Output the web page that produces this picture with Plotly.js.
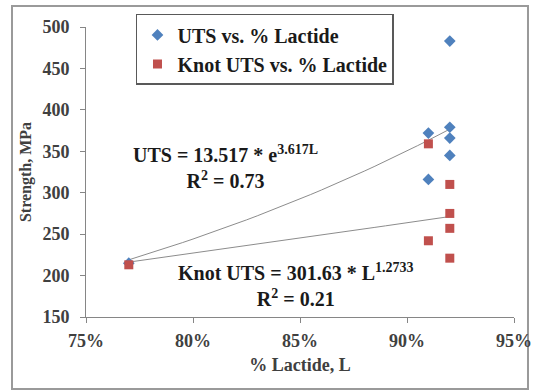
<!DOCTYPE html>
<html>
<head>
<meta charset="utf-8">
<script src="https://cdn.plot.ly/plotly-3.0.1.min.js"></script>
<style>html,body{margin:0;padding:0;background:#fff;}#chart{width:539px;height:391px;}</style>
</head>
<body>
<div id="chart"></div>
<script>
// Data
const utsLactide = [0.77, 0.91, 0.91, 0.92, 0.92, 0.92, 0.92];
const utsValues  = [215, 372, 316, 483, 379, 366, 345];
const knotLactide = [0.77, 0.91, 0.91, 0.92, 0.92, 0.92, 0.92];
const knotValues  = [213, 359, 242, 310, 275, 257, 221];

// Trendline equations shown on the chart
const utsFit  = {a: 13.517, b: 3.617};    // UTS = a * e^(bL)
const knotFit = {a: 301.63, b: 1.2733};   // Knot UTS = a * L^b
const fitRange = [0.77, 0.92];

const xTicks = [0.75, 0.80, 0.85, 0.90, 0.95];
const yTicks = [150, 200, 250, 300, 350, 400, 450, 500];

const fitX = [];
for (let i = 0; i <= 30; i++) fitX.push(fitRange[0] + (fitRange[1] - fitRange[0]) * i / 30);
const utsFitY = fitX.map(L => utsFit.a * Math.exp(utsFit.b * L));
const knotFitY = fitX.map(L => knotFit.a * Math.pow(L, knotFit.b));

const serif = 'Liberation Serif';
const txt = '#1a1a1a';

const traces = [
  {x: fitX, y: utsFitY, mode: 'lines', line: {color: '#8c8c8c', width: 1}, showlegend: false, hoverinfo: 'skip'},
  {x: fitX, y: knotFitY, mode: 'lines', line: {color: '#8c8c8c', width: 1}, showlegend: false, hoverinfo: 'skip'},
  {x: utsLactide, y: utsValues, mode: 'markers', name: 'UTS vs. % Lactide',
   marker: {symbol: 'diamond', size: 9, color: '#4F81BD'}},
  {x: knotLactide, y: knotValues, mode: 'markers', name: 'Knot UTS vs. % Lactide',
   marker: {symbol: 'square', size: 9, color: '#C0504D'}}
];

const layout = {
  width: 539, height: 391,
  margin: {l: 86, r: 25, t: 27, b: 74},
  paper_bgcolor: '#ffffff', plot_bgcolor: '#ffffff',
  font: {family: serif, color: txt, weight: 'bold'},
  showlegend: true,
  legend: {
    x: 0.1168, y: 1.045, xanchor: 'left', yanchor: 'top',
    bgcolor: '#ffffff', bordercolor: '#595959', borderwidth: 1.5,
    font: {family: serif, size: 20, color: txt, weight: 'bold'},
    itemwidth: 30, tracegroupgap: 0
  },
  xaxis: {
    range: [0.75, 0.95], tickvals: xTicks, tickformat: '.0%',
    showgrid: false, zeroline: false,
    showline: true, linecolor: '#868686', linewidth: 1,
    ticks: 'outside', ticklen: 5, tickcolor: '#868686',
    tickfont: {family: serif, size: 18, color: '#404040', weight: 'bold'},
    ticklabelstandoff: 2,
    title: {text: '% Lactide, L', font: {family: serif, size: 18, color: '#404040', weight: 'bold'}, standoff: 8}
  },
  yaxis: {
    range: [150, 500], tickvals: yTicks,
    showgrid: false, zeroline: false,
    showline: true, linecolor: '#868686', linewidth: 1,
    ticks: 'outside', ticklen: 5, tickcolor: '#868686',
    tickfont: {family: serif, size: 18, color: '#404040', weight: 'bold'},
    ticklabelstandoff: 7,
    title: {text: 'Strength, MPa', font: {family: serif, size: 16, color: '#404040', weight: 'bold'}, standoff: 6}
  },
  shapes: [
    {type: 'rect', xref: 'paper', yref: 'paper', x0: -0.1729, x1: 1.0327, y0: -0.2483, y1: 1.0724,
     line: {color: '#9a9a9a', width: 2}, fillcolor: 'rgba(0,0,0,0)', layer: 'below'}
  ],
  annotations: [
    {x: 0.8154, y: 331.6, xref: 'x', yref: 'y', showarrow: false, xanchor: 'center', yanchor: 'middle', align: 'center',
     text: 'UTS = 13.517 * e<sup>3.617L</sup><br>R<sup>2</sup> = 0.73', font: {family: serif, size: 20, color: txt, weight: 'bold'}},
    {x: 0.8481, y: 188.6, xref: 'x', yref: 'y', showarrow: false, xanchor: 'center', yanchor: 'middle', align: 'center',
     text: 'Knot UTS = 301.63 * L<sup>1.2733</sup><br>R<sup>2</sup> = 0.21', font: {family: serif, size: 20, color: txt, weight: 'bold'}}
  ]
};

Plotly.newPlot('chart', traces, layout, {displayModeBar: false, staticPlot: true});
</script>
</body>
</html>
